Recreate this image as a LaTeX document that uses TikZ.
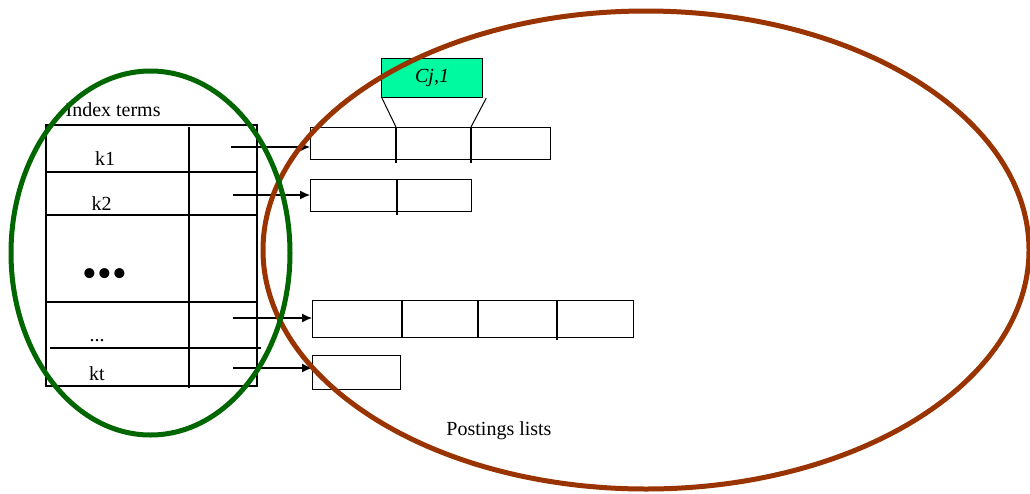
\documentclass[tikz,border=0pt]{standalone}
\usepackage{fontspec}
\setmainfont{Liberation Serif}
\usetikzlibrary{arrows.meta}
\definecolor{ctgreen}{RGB}{0,102,0}
\definecolor{ctbrown}{RGB}{153,51,0}
\definecolor{cjgreen}{RGB}{0,250,160}
\begin{document}
\begin{tikzpicture}[x=1pt,y=-1pt, line width=1.2pt,
  lbl/.style={font=\fontsize{20}{24}\selectfont, inner sep=0pt, anchor=base},
  plist/.style={draw, rectangle, inner sep=0pt, anchor=north west},
  ptr/.style={-{Latex[length=10pt,width=9pt]}, line width=1.2pt},
  ring/.style={line width=5pt}]
\useasboundingbox (0,0) rectangle (1030,493);

% index table
\draw (46,125) rectangle (257,386);
\draw (189,127) -- (189,388);
\draw (46,172) -- (257,172);
\draw (46,215) -- (257,215);
\draw (46,302) -- (257,302);
\draw (50,348) -- (261,348);

\node[lbl, anchor=base west] (it) at (65,116.7) {Index terms};
\node[lbl] (k1) at (105,165) {k1};
\node[lbl] (k2) at (101.7,210) {k2};
\node[font=\fontsize{42}{42}\selectfont, inner sep=0pt] (dots) at (105,278) {•••};
\node[lbl] (dd) at (97,341) {...};
\node[lbl] (kt) at (97,380) {kt};

% posting lists
\node[plist, minimum width=240pt, minimum height=32pt] (b1) at (310,127) {};
\draw ([xshift=86pt]b1.north west) -- ([xshift=86pt,yshift=-3pt]b1.south west);
\draw ([xshift=161pt]b1.north west) -- ([xshift=161pt,yshift=-3pt]b1.south west);

\node[plist, minimum width=161pt, minimum height=32pt] (b2) at (310,179) {};
\draw ([xshift=87pt]b2.north west) -- ([xshift=87pt,yshift=-3pt]b2.south west);

\node[plist, minimum width=321pt, minimum height=37pt] (b3) at (312,300) {};
\draw ([xshift=90pt]b3.north west) -- ([xshift=90pt]b3.south west);
\draw ([xshift=166pt]b3.north west) -- ([xshift=166pt]b3.south west);
\draw ([xshift=245pt]b3.north west) -- ([xshift=245pt,yshift=-2pt]b3.south west);

\node[plist, minimum width=88pt, minimum height=34pt] (b4) at (312,355) {};

% Cj,1 box
\node[plist, fill=cjgreen, minimum width=101pt, minimum height=39pt,
      font=\fontsize{20}{24}\selectfont\itshape] (cj) at (381,58) {Cj,1};
\draw[line width=1pt] ([xshift=1pt]cj.south west) -- ([xshift=86pt]b1.north west);
\draw[line width=1pt] ([xshift=3pt]cj.south east) -- ([xshift=161pt]b1.north west);

% pointers
\coordinate (a1) at (231,147);
\coordinate (a2) at (233,195);
\coordinate (a3) at (233,318);
\coordinate (a4) at (233,368);
\draw[ptr] (a1) -- (a1 -| b1.west);
\draw[ptr] (a2) -- (a2 -| b2.west);
\draw[ptr] (a3) -- (a3 -| b3.west);
\draw[ptr] (a4) -- (a4 -| b4.west);

\node[lbl] (pl) at (499,435.7) {Postings lists};

% ellipses
\draw[ctbrown, ring] (646,250) ellipse [x radius=383pt, y radius=239pt];
\draw[ctgreen, ring] (150.5,253) ellipse [x radius=139.5pt, y radius=182pt];
\end{tikzpicture}
\end{document}
